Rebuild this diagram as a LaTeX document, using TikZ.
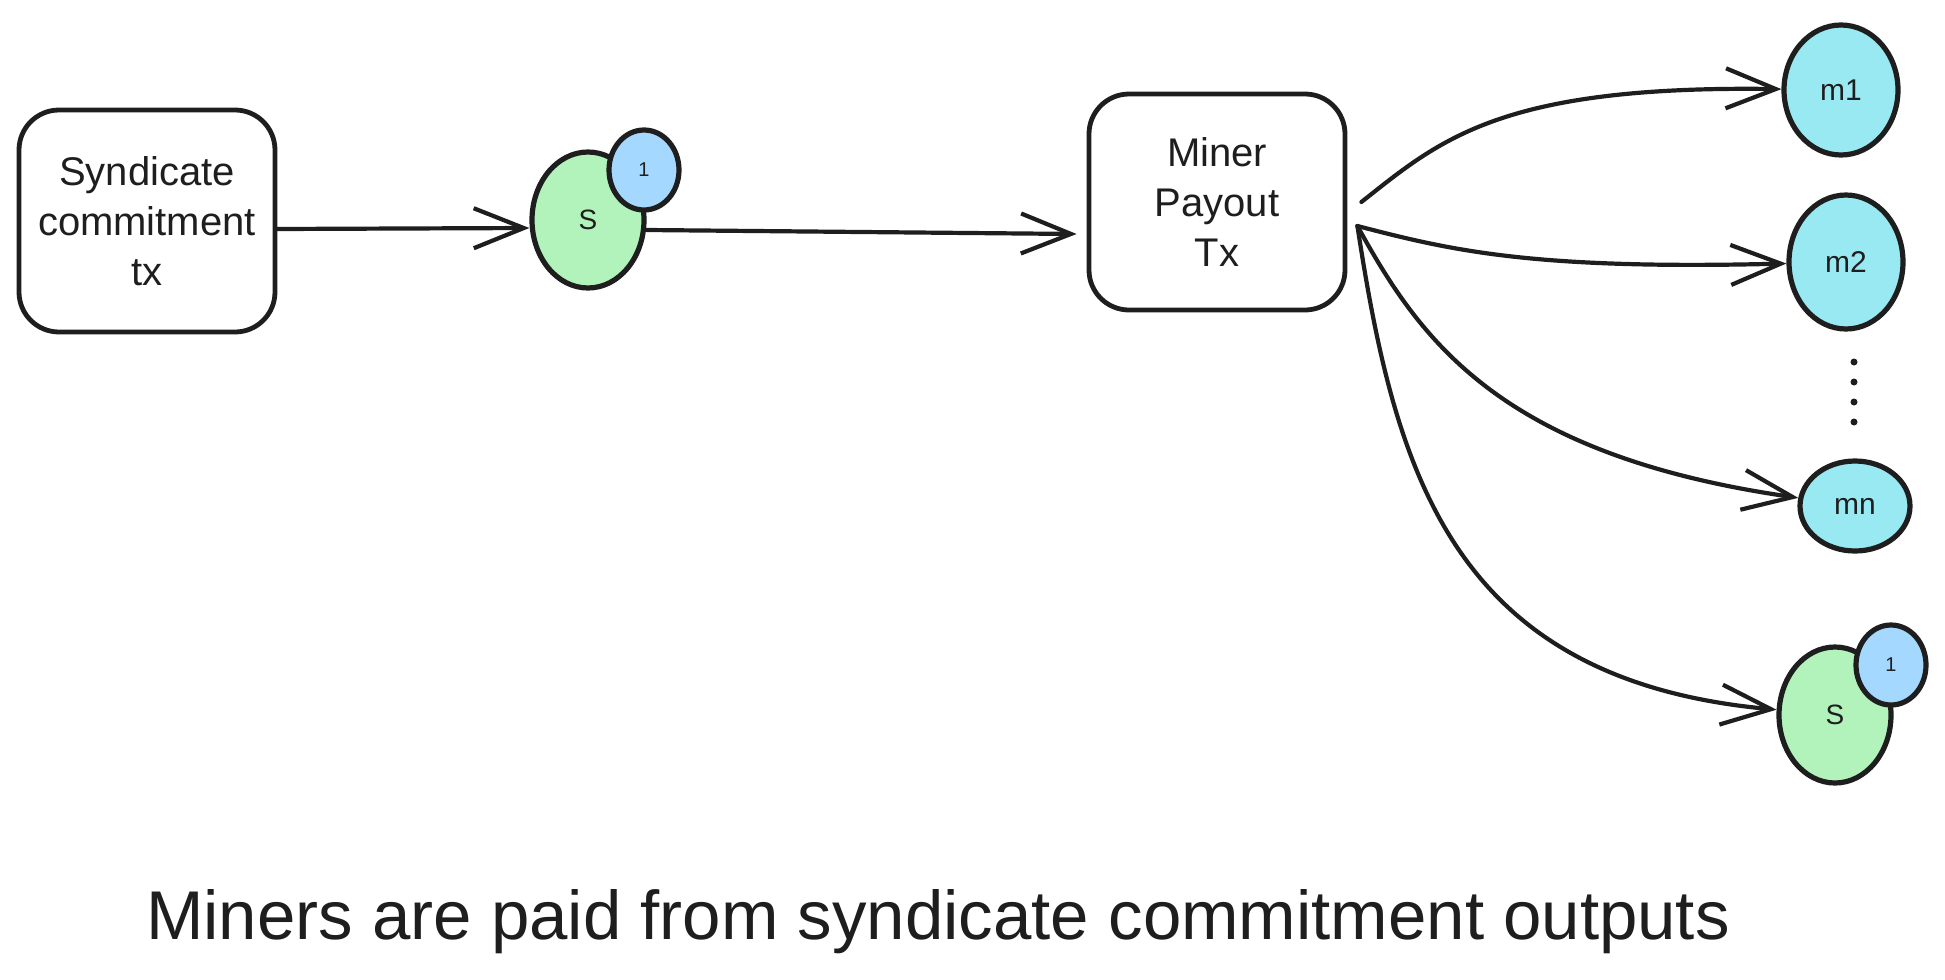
\documentclass[tikz,border=0pt]{standalone}
\usepackage{fontspec}
\setmainfont{Liberation Sans}
\usetikzlibrary{shapes.geometric,arrows.meta}
\definecolor{ink}{HTML}{1E1E1E}
\definecolor{coingreen}{HTML}{B2F2BB}
\definecolor{badgeblue}{HTML}{A5D8FF}
\definecolor{minercyan}{HTML}{99E9F2}
\newcommand{\mkcoin}[2]{\node[coin] (#1) at (#2) {S} ;
    \node[badge] (#1b) at ([xshift=28pt,yshift=25pt]#1.center) {1} ;}
\tikzset{
    txbox/.style={
        draw=ink,
        line width=2.4pt,
        rounded corners=20pt,
        minimum width=128pt,
        minimum height=111pt,
        align=center,
        text=ink,
        font=\fontsize{20}{25}\selectfont,
    },
    coin/.style={
        ellipse,
        draw=ink,
        line width=2.6pt,
        fill=coingreen,
        inner sep=0,
        minimum width=56pt,
        minimum height=68pt,
        text=ink,
        font=\fontsize{14}{16}\selectfont,
    },
    badge/.style={
        ellipse,
        draw=ink,
        line width=2.6pt,
        fill=badgeblue,
        inner sep=0,
        minimum width=35pt,
        minimum height=40pt,
        text=ink,
        font=\fontsize{10}{11}\selectfont,
    },
    miner/.style={
        ellipse,
        draw=ink,
        line width=2.6pt,
        fill=minercyan,
        inner sep=0,
        minimum width=57pt,
        text=ink,
        font=\fontsize{15}{17}\selectfont,
    },
    link/.style={
        draw=ink,
        line width=2.1pt,
        line cap=round,
        -{Straight Barb[length=25pt,width=20pt]},
    },
}

\begin{document}
\begin{tikzpicture}[x=0.5pt,y=-0.5pt]
            \useasboundingbox (0,0) rectangle (1945,980) ;

            \node[txbox] (synd) at (147,221) {Syndicate\\commitment\\tx} ;
            \mkcoin{s1}{588,220}
            \node[txbox, minimum height=108pt] (pay) at (1217,202) {Miner\\Payout\\Tx} ;

            \node[miner, minimum height=65pt] (m1) at (1841,90) {m1} ;
            \node[miner, minimum height=67pt] (m2) at (1846,262) {m2} ;
            \node[miner, minimum width=55pt, minimum height=45pt] (mn) at (1855,506) {mn} ;
            \mkcoin{s2}{1835,715}

            % dots between m2 and mn
            \foreach \y in {362,382,402,422}
                \fill[ink] (1854,\y) circle[radius=3.5] ;

            \node[anchor=base, text=ink, font=\fontsize{34.5}{40}\selectfont] (caption)
                at (938,939) {Miners are paid from syndicate commitment outputs} ;

            \coordinate (fanA) at ([xshift=7pt]pay.east) ;
            \coordinate (fanB) at ([xshift=5pt,yshift=-12pt]pay.east) ;

            \draw[link] ([yshift=-4pt]synd.east) -- ([yshift=-4pt]s1.west) ;
            \draw[link] ([yshift=-5pt]s1.east) -- ([xshift=-5pt,yshift=-16pt]pay.west) ;
            \draw[link] (fanA) .. controls (1440,140) and (1500,85) .. (m1) ;
            \draw[link] (fanB) .. controls (1450,250) and (1530,270) .. (m2) ;
            \draw[link] (fanB) .. controls (1420,340) and (1500,455) .. (mn) ;
            \draw[link] (fanB) .. controls (1395,470) and (1450,680) .. (s2) ;
        \end{tikzpicture}
\end{document}
